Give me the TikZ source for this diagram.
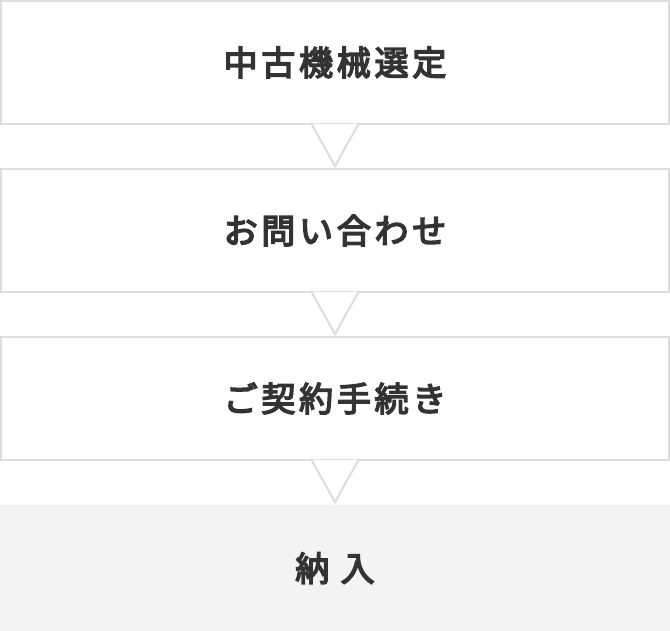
\documentclass[tikz,border=0pt]{standalone}
\usepackage{fontspec}
\usepackage{tikz}
\usetikzlibrary{positioning}
\newfontfamily\jpfont[FakeBold=4.5, LetterSpace=11]{Noto Sans CJK JP}
\definecolor{rahmen}{HTML}{DDDDDD}
\definecolor{textgrau}{HTML}{333333}
\definecolor{endfeld}{HTML}{F2F3F5}

\tikzset{
  flowbox/.style={draw=rahmen, line width=2pt, fill=white, minimum width=668pt,
    minimum height=123pt, inner sep=0pt, text=textgrau,
    font=\jpfont\fontsize{34}{40}\selectfont},
  lastbox/.style={fill=endfeld, minimum width=670pt, minimum height=126pt,
    inner sep=0pt, text=textgrau, font=\jpfont\fontsize{34}{40}\selectfont}
}

\begin{document}
\begin{tikzpicture}[x=1pt, y=1pt]
    \useasboundingbox (0,0) rectangle (670,631);

    % Steps
    \node[flowbox] (auswahl) at (335,568.5) {中古機械選定};
    \node[flowbox, below=43pt of auswahl] (anfrage) {お問い合わせ};
    \node[flowbox, below=43pt of anfrage] (vertrag) {ご契約手続き};
    \node[lastbox, below=44pt of vertrag] (lieferung) {納 入};

    % Pointers under the boxes
    \foreach \stufe in {auswahl, anfrage, vertrag} {
        \fill[white] (\stufe.south) ++(-22.5,1.2) -- ++(22.5,-42) -- ++(22.5,42) -- cycle;
        \draw[rahmen, line width=2pt, line join=miter]
            (\stufe.south) ++(-23.5,1) -- ++(23.5,-42) -- ++(23.5,42);
    }
\end{tikzpicture}
\end{document}
